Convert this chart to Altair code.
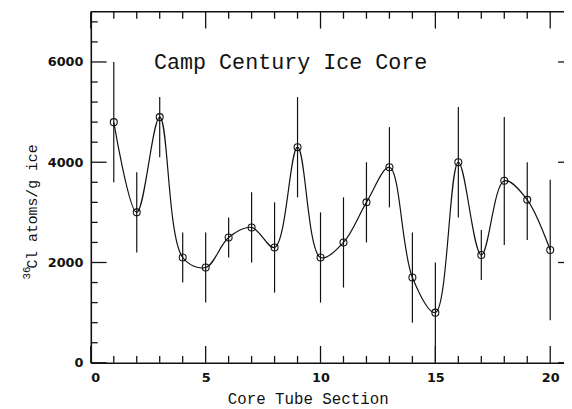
import altair as alt
import pandas as pd

# ---- data ----
sections = list(range(1, 21))
cl36 = [4800, 3000, 4900, 2100, 1900, 2500, 2700, 2300, 4300, 2100,
        2400, 3200, 3900, 1700, 1000, 4000, 2150, 3630, 3250, 2250]
err_low = [3600, 2200, 4100, 1600, 1200, 2100, 2000, 1400, 3300, 1200,
           1500, 2400, 3100, 800, 0, 2900, 1650, 2350, 2450, 850]
err_high = [6000, 3800, 5300, 2600, 2600, 2900, 3400, 3200, 5300, 3000,
            3300, 4000, 4700, 2600, 2000, 5100, 2650, 4900, 4000, 3650]

x_major = [0, 5, 10, 15, 20]
x_minor = [v for v in range(1, 21) if v % 5 != 0]
y_major = [0, 2000, 4000, 6000]
y_minor = [v for v in range(400, 7000, 400) if v % 2000 != 0]

title_text = "Camp Century Ice Core"
x_title = "Core Tube Section"
y_title_main = "Cl atoms/g ice"
y_title_sup = "36"

X_DOMAIN = [0, 20.6]
Y_DOMAIN = [0, 7000]
W, H = 480, 356
INK = "#111111"
MONO = "Liberation Mono, DejaVu Sans Mono, monospace"

df = pd.DataFrame({"section": sections, "cl": cl36, "lo": err_low, "hi": err_high})
xs = alt.Scale(domain=X_DOMAIN, nice=False, zero=False)
ys = alt.Scale(domain=Y_DOMAIN, nice=False, zero=False)

base = alt.Chart(df)

errbars = base.mark_rule(color=INK, strokeWidth=1.2).encode(
    x=alt.X("section:Q", scale=xs,
            axis=alt.Axis(values=x_major, format="d", title=x_title, titleX=220, titleY=41,
                          titleBaseline="alphabetic", titleAnchor="middle")),
    y=alt.Y("lo:Q", scale=ys,
            axis=alt.Axis(values=y_major, format="d", title=y_title_main, titleX=-55,
                          titleY=197, titleAngle=-90, titleBaseline="alphabetic",
                          titleAnchor="middle")),
    y2="hi:Q",
)

line = base.mark_line(color=INK, strokeWidth=1.2, interpolate="catmull-rom").encode(
    x=alt.X("section:Q", scale=xs), y=alt.Y("cl:Q", scale=ys)
)

points = base.mark_point(shape="circle", filled=False, size=50, color=INK,
                         strokeWidth=1.1, opacity=1).encode(
    x=alt.X("section:Q", scale=xs), y=alt.Y("cl:Q", scale=ys)
)

def vals(lst):
    return pd.DataFrame({"v": lst})

tick_layers = []
# left ticks (inward)
tick_layers.append(alt.Chart(vals(y_major)).mark_rule(color=INK, strokeWidth=1.3).encode(
    y=alt.Y("v:Q", scale=ys), x=alt.value(0), x2=alt.value(16)))
tick_layers.append(alt.Chart(vals(y_minor)).mark_rule(color=INK, strokeWidth=1.3).encode(
    y=alt.Y("v:Q", scale=ys), x=alt.value(0), x2=alt.value(7)))
# right ticks (only major stubs visible)
tick_layers.append(alt.Chart(vals(y_major)).mark_rule(color=INK, strokeWidth=1.3).encode(
    y=alt.Y("v:Q", scale=ys), x=alt.value(W - 6), x2=alt.value(W)))
# bottom ticks
tick_layers.append(alt.Chart(vals(x_major)).mark_rule(color=INK, strokeWidth=1.3).encode(
    x=alt.X("v:Q", scale=xs), y=alt.value(H), y2=alt.value(H - 17)))
tick_layers.append(alt.Chart(vals(x_minor)).mark_rule(color=INK, strokeWidth=1.3).encode(
    x=alt.X("v:Q", scale=xs), y=alt.value(H), y2=alt.value(H - 7)))
# top ticks
tick_layers.append(alt.Chart(vals(x_major)).mark_rule(color=INK, strokeWidth=1.3).encode(
    x=alt.X("v:Q", scale=xs), y=alt.value(0), y2=alt.value(17)))
tick_layers.append(alt.Chart(vals(x_minor)).mark_rule(color=INK, strokeWidth=1.3).encode(
    x=alt.X("v:Q", scale=xs), y=alt.value(0), y2=alt.value(7)))

# top frame line
top_frame = alt.Chart(vals([0])).mark_rule(color=INK, strokeWidth=1.6).encode(
    x=alt.datum(X_DOMAIN[0], scale=xs), x2=alt.datum(X_DOMAIN[1]),
    y=alt.datum(Y_DOMAIN[1], scale=ys))

title = alt.Chart(pd.DataFrame({"t": [title_text]})).mark_text(
    font=MONO, fontSize=22, align="center", baseline="alphabetic", color=INK
).encode(x=alt.datum(8.7, scale=xs), y=alt.datum(5850, scale=ys), text="t:N")

# superscript "36" of the y-axis title
sup = alt.Chart(pd.DataFrame({"t": [y_title_sup]})).mark_text(
    font=MONO, fontSize=11, align="center", baseline="alphabetic", angle=270, color=INK
).encode(x=alt.value(-62), y=alt.value(265), text="t:N")

chart = alt.layer(errbars, line, points, *tick_layers, top_frame, title, sup).properties(
    width=W, height=H,
    autosize=alt.AutoSizeParams(type="none"),
    padding={"left": 84, "top": 1, "right": 0, "bottom": 44},
).configure_view(stroke=None).configure_axis(
    grid=False, ticks=False, domain=True, domainColor=INK, domainWidth=1.6,
    labelFont="DejaVu Sans", labelFontSize=13, labelFontWeight="bold", labelColor=INK,
    labelPadding=8,
    titleFont=MONO, titleFontSize=16, titleFontWeight="normal",
    titleColor=INK,
).configure_axisX(labelPadding=9).configure_axisY(titleFontSize=15)

chart.save("out.html", embed_options={"renderer": "svg", "actions": False})
